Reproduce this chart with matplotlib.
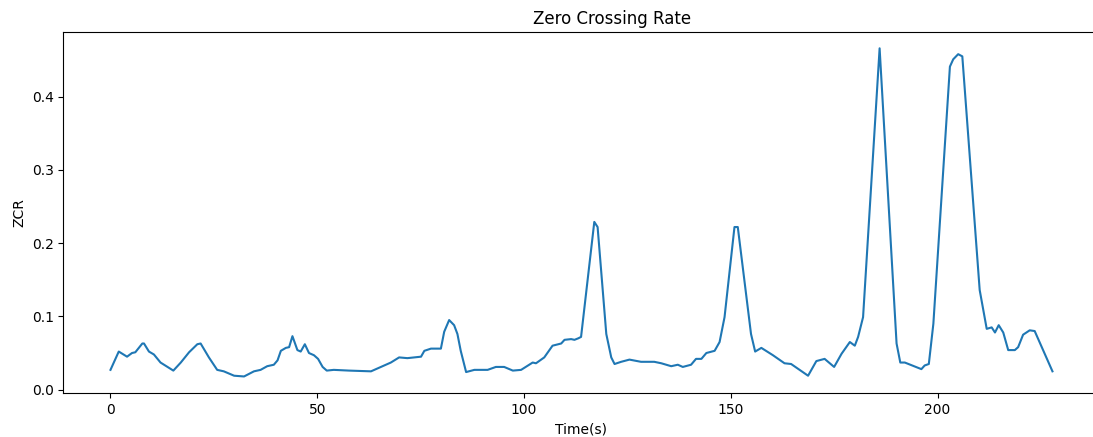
import numpy as np
import matplotlib
matplotlib.use("Agg")
import matplotlib.pyplot as plt

### Zero crossing rate values (time in s, zcr)
time_s = [0, 2, 4, 5.2, 6, 7.7, 8.1, 9.3, 10.5, 12.1, 15.2, 17, 19, 21, 21.8,
          23.8, 25.8, 27.4, 29.9, 32.3, 34.7, 36.3, 37.9, 39.5, 40.4, 41.2,
          42.4, 43.2, 44, 45.2, 46, 47, 48, 49.2, 50.2, 51.3, 52.3, 54, 57.7,
          63, 65.4, 67.8, 69.8, 71.8, 75.1, 75.9, 77.5, 79.9, 80.7, 81.9,
          83.1, 83.9, 84.7, 86, 88, 91.2, 93.2, 95.2, 97.3, 99.3, 102.1,
          102.9, 104.9, 106.9, 109, 109.8, 111.4, 112.2, 113.1, 113.8, 117,
          117.8, 119.9, 121.1, 121.9, 123.5, 125.5, 128.3, 131.5, 133.2,
          135.6, 137.2, 138.4, 140.4, 141.6, 142.9, 144.1, 146.1, 147.3,
          148.5, 150.9, 151.7, 154.9, 155.9, 157.4, 160.2, 163, 164.6, 168.7,
          170.7, 172.7, 175, 176.8, 178.8, 180, 180.8, 182, 186, 190.1, 191,
          192.1, 196.1, 196.9, 197.9, 199, 203, 203.8, 205, 206, 210.2, 211.9,
          213.1, 213.9, 214.8, 215.9, 217.1, 218.7, 219.5, 220.7, 222.3,
          223.5, 227.8]
zcr = [0.027, 0.052, 0.045, 0.050, 0.051, 0.063, 0.063, 0.052, 0.048, 0.037,
       0.026, 0.037, 0.051, 0.062, 0.063, 0.044, 0.027, 0.025, 0.019, 0.018,
       0.025, 0.027, 0.032, 0.034, 0.040, 0.053, 0.057, 0.058, 0.073, 0.054,
       0.052, 0.062, 0.050, 0.047, 0.042, 0.031, 0.026, 0.027, 0.026, 0.025,
       0.031, 0.037, 0.044, 0.043, 0.045, 0.053, 0.056, 0.056, 0.079, 0.095,
       0.088, 0.076, 0.053, 0.024, 0.027, 0.027, 0.031, 0.031, 0.026, 0.027,
       0.037, 0.036, 0.044, 0.060, 0.063, 0.068, 0.069, 0.068, 0.070, 0.072,
       0.229, 0.222, 0.076, 0.044, 0.035, 0.038, 0.041, 0.038, 0.038, 0.036,
       0.032, 0.034, 0.031, 0.034, 0.042, 0.042, 0.050, 0.053, 0.065, 0.099,
       0.222, 0.222, 0.076, 0.052, 0.057, 0.047, 0.036, 0.035, 0.019, 0.039,
       0.042, 0.031, 0.049, 0.065, 0.060, 0.072, 0.099, 0.466, 0.063, 0.037,
       0.037, 0.028, 0.033, 0.035, 0.090, 0.441, 0.451, 0.458, 0.455, 0.136,
       0.083, 0.085, 0.078, 0.088, 0.078, 0.054, 0.054, 0.058, 0.075, 0.081,
       0.080, 0.025]

fig = plt.figure(figsize=(10.93, 4.37), dpi=100)
# the reference is cropped: the right spine falls just outside the picture
ax = fig.add_axes([0.058, 0.101, 0.948, 0.826])
ax.plot(time_s, zcr, color='#1f77b4', linewidth=1.5)
ax.set_title('Zero Crossing Rate', x=0.53)
ax.set_xlabel('Time(s)')
ax.set_ylabel('ZCR')
ax.set_xticks([0, 50, 100, 150, 200])
ax.set_yticks([0.0, 0.1, 0.2, 0.3, 0.4])

fig.savefig('out.png', dpi=100)
